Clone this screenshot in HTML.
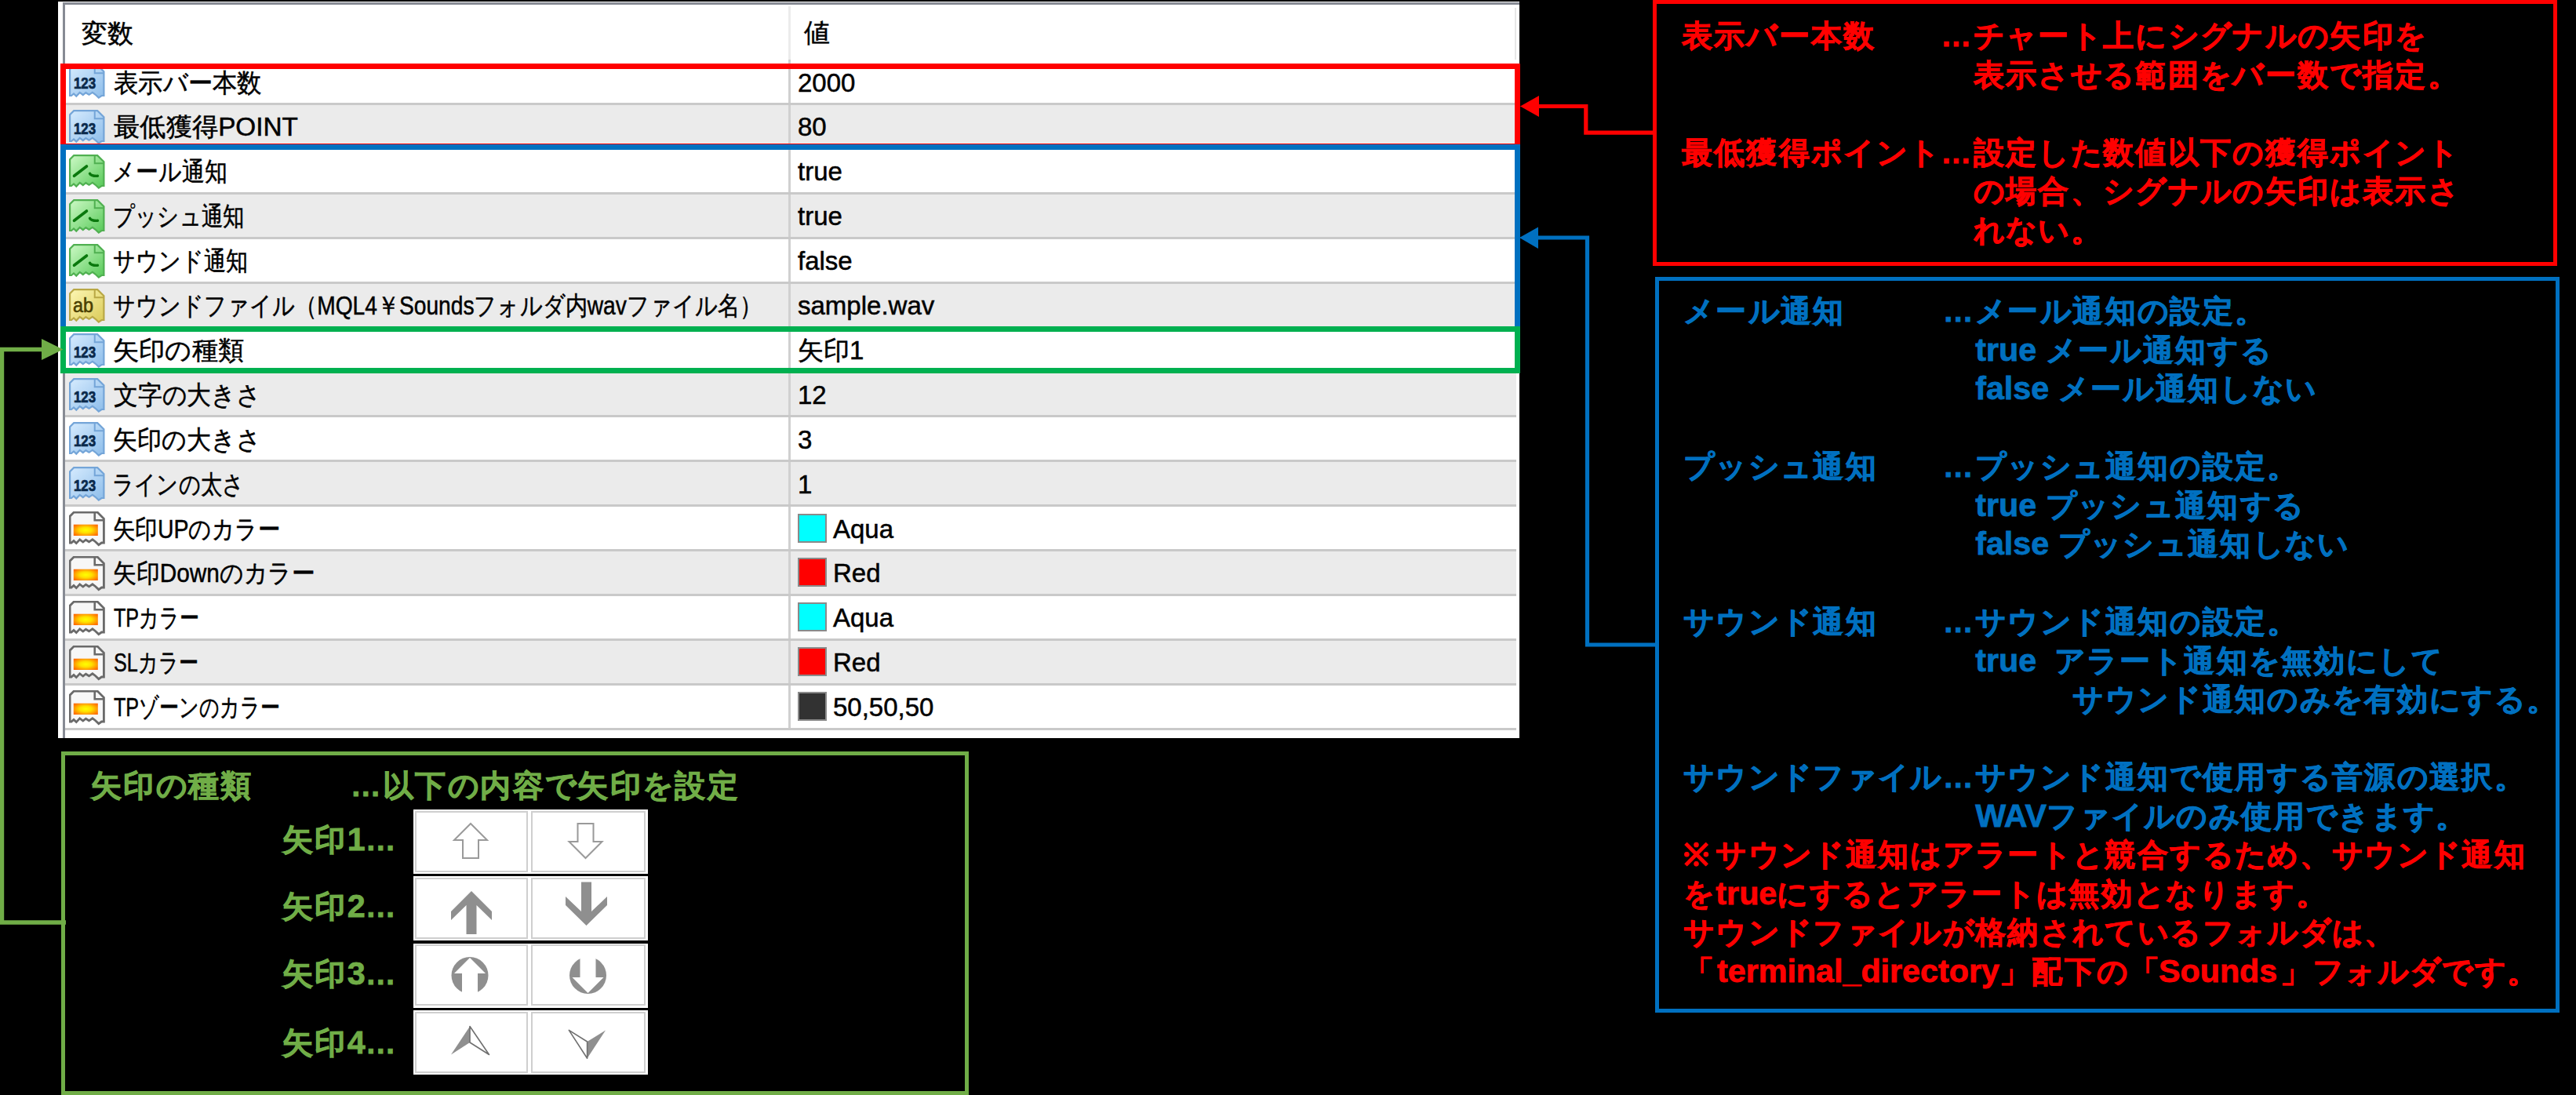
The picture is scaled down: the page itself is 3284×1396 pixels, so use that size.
<!DOCTYPE html>
<html><head><meta charset="utf-8"><style>
html,body{margin:0;padding:0}
body{width:3284px;height:1396px;background:#000;overflow:hidden;position:relative;font-family:"Liberation Sans", sans-serif}
.a{position:absolute}
.t{position:absolute;white-space:pre;color:#000;font-size:33px;line-height:33px;-webkit-text-stroke:0.5px #000}
.n{position:absolute;white-space:pre;font-weight:bold;font-size:39px;line-height:39px;-webkit-text-stroke:0.8px currentColor}
.n b{display:inline-block;width:41.35px}
.lt{font-size:41.25px;letter-spacing:0;line-height:1px}
.r{color:#ff0000} .b{color:#0070c0} .g{color:#70ad47}
.ic{position:absolute;width:46px;height:46px}
</style></head><body>

<div class="a" style="left:74px;top:2px;width:1863px;height:939px;background:#fff"></div>
<div class="a" style="left:80px;top:3px;width:1857px;height:3px;background:#878b94"></div>
<div class="a" style="left:80px;top:3px;width:3px;height:938px;background:#878b94"></div>
<div class="a" style="left:1931px;top:10px;width:2px;height:67px;background:#e6e6e6"></div>
<div class="a" style="left:1005px;top:8px;width:3px;height:68px;background:#ececec"></div>
<div class="t" style="left:104px;top:25.5px">変数</div>
<div class="t" style="left:1025px;top:25px">値</div>
<div class="a" style="left:83px;top:76.0px;width:1850px;height:55.1px;background:#ffffff"></div>
<div class="a" style="left:83px;top:131.1px;width:1850px;height:3px;background:#c9c9c9"></div>
<div class="a" style="left:1005px;top:76.0px;width:3px;height:55.1px;background:#d0d0d0"></div>
<svg class="ic" style="left:88.4px;top:82px" viewBox="0 0 46 46"><defs><linearGradient id="g123" x1="0" y1="0" x2="1" y2="1"><stop offset="0" stop-color="#d6ebfe"/><stop offset="1" stop-color="#8dbdea"/></linearGradient></defs><path d="M1.1,40 L1.1,6.2 L6.2,1.1 L36.2,1.1 L44.4,9.3 L44.4,40 L41.5,40 L37.8,42.6 L33.5,38.5 L29.9,35.8 L25.5,38.8 L21.4,36.2 L17.8,39 L13.7,35.9 L9.3,40.6 L6,37.4 L3,40 Z" fill="url(#g123)" stroke="#74a5d8" stroke-width="2.2" stroke-linejoin="miter"/><path d="M32.75,1.1 L32.75,11.2 L44.4,11.2" fill="none" stroke="#74a5d8" stroke-width="2.0"/><text x="5.9" y="31.4" font-family="Liberation Sans" font-weight="bold" font-size="20.5" fill="#0b2a4c" stroke="#0b2a4c" stroke-width="0.7" textLength="28.3" lengthAdjust="spacingAndGlyphs">123</text></svg>
<div class="t" style="left:145.1px;top:88.5px;transform:scaleX(0.9487);transform-origin:0 0">表示バー本数</div>
<div class="t" style="left:1017px;top:88.5px">2000</div>
<div class="a" style="left:83px;top:134.1px;width:1850px;height:53.9px;background:#ebebeb"></div>
<div class="a" style="left:83px;top:188.0px;width:1850px;height:3px;background:#c9c9c9"></div>
<div class="a" style="left:1005px;top:134.1px;width:3px;height:53.9px;background:#d0d0d0"></div>
<svg class="ic" style="left:88.4px;top:140.1px" viewBox="0 0 46 46"><defs><linearGradient id="g123" x1="0" y1="0" x2="1" y2="1"><stop offset="0" stop-color="#d6ebfe"/><stop offset="1" stop-color="#8dbdea"/></linearGradient></defs><path d="M1.1,40 L1.1,6.2 L6.2,1.1 L36.2,1.1 L44.4,9.3 L44.4,40 L41.5,40 L37.8,42.6 L33.5,38.5 L29.9,35.8 L25.5,38.8 L21.4,36.2 L17.8,39 L13.7,35.9 L9.3,40.6 L6,37.4 L3,40 Z" fill="url(#g123)" stroke="#74a5d8" stroke-width="2.2" stroke-linejoin="miter"/><path d="M32.75,1.1 L32.75,11.2 L44.4,11.2" fill="none" stroke="#74a5d8" stroke-width="2.0"/><text x="5.9" y="31.4" font-family="Liberation Sans" font-weight="bold" font-size="20.5" fill="#0b2a4c" stroke="#0b2a4c" stroke-width="0.7" textLength="28.3" lengthAdjust="spacingAndGlyphs">123</text></svg>
<div class="t" style="left:145.0px;top:145.4px;transform:scaleX(1.0087);transform-origin:0 0">最低獲得POINT</div>
<div class="t" style="left:1017px;top:145.4px">80</div>
<div class="a" style="left:83px;top:191.0px;width:1850px;height:53.9px;background:#ffffff"></div>
<div class="a" style="left:83px;top:244.9px;width:1850px;height:3px;background:#c9c9c9"></div>
<div class="a" style="left:1005px;top:191.0px;width:3px;height:53.9px;background:#d0d0d0"></div>
<svg class="ic" style="left:88.4px;top:197.0px" viewBox="0 0 46 46"><defs><linearGradient id="gb" x1="0" y1="0" x2="1" y2="1"><stop offset="0" stop-color="#cdf9c6"/><stop offset="1" stop-color="#56c957"/></linearGradient></defs><path d="M1.1,40 L1.1,6.2 L6.2,1.1 L36.2,1.1 L44.4,9.3 L44.4,40 L41.5,40 L37.8,42.6 L33.5,38.5 L29.9,35.8 L25.5,38.8 L21.4,36.2 L17.8,39 L13.7,35.9 L9.3,40.6 L6,37.4 L3,40 Z" fill="url(#gb)" stroke="#50b051" stroke-width="2.2" stroke-linejoin="miter"/><path d="M32.75,1.1 L32.75,11.2 L44.4,11.2" fill="none" stroke="#50b051" stroke-width="2.0"/><path d="M6.5,27.3 L22.5,15" stroke="#0a780d" stroke-width="3.6" stroke-linecap="round" fill="none"/><path d="M26.5,24.2 Q28,27.6 36.5,27.3" stroke="#0a780d" stroke-width="3.4" stroke-linecap="round" fill="none"/></svg>
<div class="t" style="left:142.5px;top:202.3px;transform:scaleX(0.8769);transform-origin:0 0">メール通知</div>
<div class="t" style="left:1017px;top:202.3px">true</div>
<div class="a" style="left:83px;top:247.9px;width:1850px;height:53.9px;background:#ebebeb"></div>
<div class="a" style="left:83px;top:301.8px;width:1850px;height:3px;background:#c9c9c9"></div>
<div class="a" style="left:1005px;top:247.9px;width:3px;height:53.9px;background:#d0d0d0"></div>
<svg class="ic" style="left:88.4px;top:253.9px" viewBox="0 0 46 46"><defs><linearGradient id="gb" x1="0" y1="0" x2="1" y2="1"><stop offset="0" stop-color="#cdf9c6"/><stop offset="1" stop-color="#56c957"/></linearGradient></defs><path d="M1.1,40 L1.1,6.2 L6.2,1.1 L36.2,1.1 L44.4,9.3 L44.4,40 L41.5,40 L37.8,42.6 L33.5,38.5 L29.9,35.8 L25.5,38.8 L21.4,36.2 L17.8,39 L13.7,35.9 L9.3,40.6 L6,37.4 L3,40 Z" fill="url(#gb)" stroke="#50b051" stroke-width="2.2" stroke-linejoin="miter"/><path d="M32.75,1.1 L32.75,11.2 L44.4,11.2" fill="none" stroke="#50b051" stroke-width="2.0"/><path d="M6.5,27.3 L22.5,15" stroke="#0a780d" stroke-width="3.6" stroke-linecap="round" fill="none"/><path d="M26.5,24.2 Q28,27.6 36.5,27.3" stroke="#0a780d" stroke-width="3.4" stroke-linecap="round" fill="none"/></svg>
<div class="t" style="left:143.5px;top:259.2px;transform:scaleX(0.8306);transform-origin:0 0">プッシュ通知</div>
<div class="t" style="left:1017px;top:259.2px">true</div>
<div class="a" style="left:83px;top:304.8px;width:1850px;height:53.9px;background:#ffffff"></div>
<div class="a" style="left:83px;top:358.7px;width:1850px;height:3px;background:#c9c9c9"></div>
<div class="a" style="left:1005px;top:304.8px;width:3px;height:53.9px;background:#d0d0d0"></div>
<svg class="ic" style="left:88.4px;top:310.8px" viewBox="0 0 46 46"><defs><linearGradient id="gb" x1="0" y1="0" x2="1" y2="1"><stop offset="0" stop-color="#cdf9c6"/><stop offset="1" stop-color="#56c957"/></linearGradient></defs><path d="M1.1,40 L1.1,6.2 L6.2,1.1 L36.2,1.1 L44.4,9.3 L44.4,40 L41.5,40 L37.8,42.6 L33.5,38.5 L29.9,35.8 L25.5,38.8 L21.4,36.2 L17.8,39 L13.7,35.9 L9.3,40.6 L6,37.4 L3,40 Z" fill="url(#gb)" stroke="#50b051" stroke-width="2.2" stroke-linejoin="miter"/><path d="M32.75,1.1 L32.75,11.2 L44.4,11.2" fill="none" stroke="#50b051" stroke-width="2.0"/><path d="M6.5,27.3 L22.5,15" stroke="#0a780d" stroke-width="3.6" stroke-linecap="round" fill="none"/><path d="M26.5,24.2 Q28,27.6 36.5,27.3" stroke="#0a780d" stroke-width="3.4" stroke-linecap="round" fill="none"/></svg>
<div class="t" style="left:144.3px;top:316.1px;transform:scaleX(0.8528);transform-origin:0 0">サウンド通知</div>
<div class="t" style="left:1017px;top:316.1px">false</div>
<div class="a" style="left:83px;top:361.7px;width:1850px;height:53.9px;background:#ebebeb"></div>
<div class="a" style="left:83px;top:415.6px;width:1850px;height:3px;background:#c9c9c9"></div>
<div class="a" style="left:1005px;top:361.7px;width:3px;height:53.9px;background:#d0d0d0"></div>
<svg class="ic" style="left:88.4px;top:367.7px" viewBox="0 0 46 46"><defs><linearGradient id="gab" x1="0" y1="0" x2="1" y2="1"><stop offset="0" stop-color="#fdf7b4"/><stop offset="1" stop-color="#dacb58"/></linearGradient></defs><path d="M1.1,40 L1.1,6.2 L6.2,1.1 L36.2,1.1 L44.4,9.3 L44.4,40 L41.5,40 L37.8,42.6 L33.5,38.5 L29.9,35.8 L25.5,38.8 L21.4,36.2 L17.8,39 L13.7,35.9 L9.3,40.6 L6,37.4 L3,40 Z" fill="url(#gab)" stroke="#b9a846" stroke-width="2.2" stroke-linejoin="miter"/><path d="M32.75,1.1 L32.75,11.2 L44.4,11.2" fill="none" stroke="#b9a846" stroke-width="2.0"/><text x="5" y="30.2" font-family="Liberation Sans" font-size="26" fill="#4a4000" stroke="#4a4000" stroke-width="0.6" textLength="26" lengthAdjust="spacingAndGlyphs">ab</text></svg>
<div class="t" style="left:144.3px;top:373.0px;transform:scaleX(0.8531);transform-origin:0 0">サウンドファイル（MQL4￥Soundsフォルダ内wavファイル名）</div>
<div class="t" style="left:1017px;top:373.0px">sample.wav</div>
<div class="a" style="left:83px;top:418.6px;width:1850px;height:53.9px;background:#ffffff"></div>
<div class="a" style="left:83px;top:472.5px;width:1850px;height:3px;background:#c9c9c9"></div>
<div class="a" style="left:1005px;top:418.6px;width:3px;height:53.9px;background:#d0d0d0"></div>
<svg class="ic" style="left:88.4px;top:424.6px" viewBox="0 0 46 46"><defs><linearGradient id="g123" x1="0" y1="0" x2="1" y2="1"><stop offset="0" stop-color="#d6ebfe"/><stop offset="1" stop-color="#8dbdea"/></linearGradient></defs><path d="M1.1,40 L1.1,6.2 L6.2,1.1 L36.2,1.1 L44.4,9.3 L44.4,40 L41.5,40 L37.8,42.6 L33.5,38.5 L29.9,35.8 L25.5,38.8 L21.4,36.2 L17.8,39 L13.7,35.9 L9.3,40.6 L6,37.4 L3,40 Z" fill="url(#g123)" stroke="#74a5d8" stroke-width="2.2" stroke-linejoin="miter"/><path d="M32.75,1.1 L32.75,11.2 L44.4,11.2" fill="none" stroke="#74a5d8" stroke-width="2.0"/><text x="5.9" y="31.4" font-family="Liberation Sans" font-weight="bold" font-size="20.5" fill="#0b2a4c" stroke="#0b2a4c" stroke-width="0.7" textLength="28.3" lengthAdjust="spacingAndGlyphs">123</text></svg>
<div class="t" style="left:144.0px;top:429.9px;transform:scaleX(1.0061);transform-origin:0 0">矢印の種類</div>
<div class="t" style="left:1017px;top:429.9px">矢印1</div>
<div class="a" style="left:83px;top:475.5px;width:1850px;height:53.9px;background:#ebebeb"></div>
<div class="a" style="left:83px;top:529.4px;width:1850px;height:3px;background:#c9c9c9"></div>
<div class="a" style="left:1005px;top:475.5px;width:3px;height:53.9px;background:#d0d0d0"></div>
<svg class="ic" style="left:88.4px;top:481.5px" viewBox="0 0 46 46"><defs><linearGradient id="g123" x1="0" y1="0" x2="1" y2="1"><stop offset="0" stop-color="#d6ebfe"/><stop offset="1" stop-color="#8dbdea"/></linearGradient></defs><path d="M1.1,40 L1.1,6.2 L6.2,1.1 L36.2,1.1 L44.4,9.3 L44.4,40 L41.5,40 L37.8,42.6 L33.5,38.5 L29.9,35.8 L25.5,38.8 L21.4,36.2 L17.8,39 L13.7,35.9 L9.3,40.6 L6,37.4 L3,40 Z" fill="url(#g123)" stroke="#74a5d8" stroke-width="2.2" stroke-linejoin="miter"/><path d="M32.75,1.1 L32.75,11.2 L44.4,11.2" fill="none" stroke="#74a5d8" stroke-width="2.0"/><text x="5.9" y="31.4" font-family="Liberation Sans" font-weight="bold" font-size="20.5" fill="#0b2a4c" stroke="#0b2a4c" stroke-width="0.7" textLength="28.3" lengthAdjust="spacingAndGlyphs">123</text></svg>
<div class="t" style="left:145.1px;top:486.8px;transform:scaleX(0.9344);transform-origin:0 0">文字の大きさ</div>
<div class="t" style="left:1017px;top:486.8px">12</div>
<div class="a" style="left:83px;top:532.4px;width:1850px;height:53.9px;background:#ffffff"></div>
<div class="a" style="left:83px;top:586.3px;width:1850px;height:3px;background:#c9c9c9"></div>
<div class="a" style="left:1005px;top:532.4px;width:3px;height:53.9px;background:#d0d0d0"></div>
<svg class="ic" style="left:88.4px;top:538.4px" viewBox="0 0 46 46"><defs><linearGradient id="g123" x1="0" y1="0" x2="1" y2="1"><stop offset="0" stop-color="#d6ebfe"/><stop offset="1" stop-color="#8dbdea"/></linearGradient></defs><path d="M1.1,40 L1.1,6.2 L6.2,1.1 L36.2,1.1 L44.4,9.3 L44.4,40 L41.5,40 L37.8,42.6 L33.5,38.5 L29.9,35.8 L25.5,38.8 L21.4,36.2 L17.8,39 L13.7,35.9 L9.3,40.6 L6,37.4 L3,40 Z" fill="url(#g123)" stroke="#74a5d8" stroke-width="2.2" stroke-linejoin="miter"/><path d="M32.75,1.1 L32.75,11.2 L44.4,11.2" fill="none" stroke="#74a5d8" stroke-width="2.0"/><text x="5.9" y="31.4" font-family="Liberation Sans" font-weight="bold" font-size="20.5" fill="#0b2a4c" stroke="#0b2a4c" stroke-width="0.7" textLength="28.3" lengthAdjust="spacingAndGlyphs">123</text></svg>
<div class="t" style="left:144.1px;top:543.7px;transform:scaleX(0.9393);transform-origin:0 0">矢印の大きさ</div>
<div class="t" style="left:1017px;top:543.7px">3</div>
<div class="a" style="left:83px;top:589.3px;width:1850px;height:53.9px;background:#ebebeb"></div>
<div class="a" style="left:83px;top:643.2px;width:1850px;height:3px;background:#c9c9c9"></div>
<div class="a" style="left:1005px;top:589.3px;width:3px;height:53.9px;background:#d0d0d0"></div>
<svg class="ic" style="left:88.4px;top:595.3px" viewBox="0 0 46 46"><defs><linearGradient id="g123" x1="0" y1="0" x2="1" y2="1"><stop offset="0" stop-color="#d6ebfe"/><stop offset="1" stop-color="#8dbdea"/></linearGradient></defs><path d="M1.1,40 L1.1,6.2 L6.2,1.1 L36.2,1.1 L44.4,9.3 L44.4,40 L41.5,40 L37.8,42.6 L33.5,38.5 L29.9,35.8 L25.5,38.8 L21.4,36.2 L17.8,39 L13.7,35.9 L9.3,40.6 L6,37.4 L3,40 Z" fill="url(#g123)" stroke="#74a5d8" stroke-width="2.2" stroke-linejoin="miter"/><path d="M32.75,1.1 L32.75,11.2 L44.4,11.2" fill="none" stroke="#74a5d8" stroke-width="2.0"/><text x="5.9" y="31.4" font-family="Liberation Sans" font-weight="bold" font-size="20.5" fill="#0b2a4c" stroke="#0b2a4c" stroke-width="0.7" textLength="28.3" lengthAdjust="spacingAndGlyphs">123</text></svg>
<div class="t" style="left:142.7px;top:600.6px;transform:scaleX(0.8293);transform-origin:0 0">ラインの太さ</div>
<div class="t" style="left:1017px;top:600.6px">1</div>
<div class="a" style="left:83px;top:646.2px;width:1850px;height:53.9px;background:#ffffff"></div>
<div class="a" style="left:83px;top:700.1px;width:1850px;height:3px;background:#c9c9c9"></div>
<div class="a" style="left:1005px;top:646.2px;width:3px;height:53.9px;background:#d0d0d0"></div>
<svg class="ic" style="left:88.4px;top:652.2px" viewBox="0 0 46 46"><defs><radialGradient id="gc" cx="0.5" cy="0.5" r="0.62"><stop offset="0" stop-color="#ffff00"/><stop offset="0.4" stop-color="#ffe000"/><stop offset="1" stop-color="#ff6c00"/></radialGradient></defs><path d="M1.1,40 L1.1,6.2 L6.2,1.1 L36.2,1.1 L44.4,9.3 L44.4,40 L41.5,40 L37.8,42.6 L33.5,38.5 L29.9,35.8 L25.5,38.8 L21.4,36.2 L17.8,39 L13.7,35.9 L9.3,40.6 L6,37.4 L3,40 Z" fill="#f7f7f7" stroke="#6a6a6a" stroke-width="2.8" stroke-linejoin="miter"/><path d="M32.75,1.1 L32.75,11.2 L44.4,11.2" fill="none" stroke="#6a6a6a" stroke-width="2.5999999999999996"/><rect x="5.8" y="16.7" width="31" height="14.3" fill="url(#gc)"/></svg>
<div class="t" style="left:144.3px;top:657.5px;transform:scaleX(0.8628);transform-origin:0 0">矢印UPのカラー</div>
<div class="a" style="left:1017px;top:654.5px;width:32.5px;height:33px;background:#00ffff;border:2px solid #8a8a8a"></div>
<div class="t" style="left:1062px;top:657.5px">Aqua</div>
<div class="a" style="left:83px;top:703.1px;width:1850px;height:53.9px;background:#ebebeb"></div>
<div class="a" style="left:83px;top:757.0px;width:1850px;height:3px;background:#c9c9c9"></div>
<div class="a" style="left:1005px;top:703.1px;width:3px;height:53.9px;background:#d0d0d0"></div>
<svg class="ic" style="left:88.4px;top:709.1px" viewBox="0 0 46 46"><defs><radialGradient id="gc" cx="0.5" cy="0.5" r="0.62"><stop offset="0" stop-color="#ffff00"/><stop offset="0.4" stop-color="#ffe000"/><stop offset="1" stop-color="#ff6c00"/></radialGradient></defs><path d="M1.1,40 L1.1,6.2 L6.2,1.1 L36.2,1.1 L44.4,9.3 L44.4,40 L41.5,40 L37.8,42.6 L33.5,38.5 L29.9,35.8 L25.5,38.8 L21.4,36.2 L17.8,39 L13.7,35.9 L9.3,40.6 L6,37.4 L3,40 Z" fill="#f7f7f7" stroke="#6a6a6a" stroke-width="2.8" stroke-linejoin="miter"/><path d="M32.75,1.1 L32.75,11.2 L44.4,11.2" fill="none" stroke="#6a6a6a" stroke-width="2.5999999999999996"/><rect x="5.8" y="16.7" width="31" height="14.3" fill="url(#gc)"/></svg>
<div class="t" style="left:144.2px;top:714.4px;transform:scaleX(0.9036);transform-origin:0 0">矢印Downのカラー</div>
<div class="a" style="left:1017px;top:711.4px;width:32.5px;height:33px;background:#ff0000;border:2px solid #8a8a8a"></div>
<div class="t" style="left:1062px;top:714.4px">Red</div>
<div class="a" style="left:83px;top:760.0px;width:1850px;height:53.9px;background:#ffffff"></div>
<div class="a" style="left:83px;top:813.9px;width:1850px;height:3px;background:#c9c9c9"></div>
<div class="a" style="left:1005px;top:760.0px;width:3px;height:53.9px;background:#d0d0d0"></div>
<svg class="ic" style="left:88.4px;top:766.0px" viewBox="0 0 46 46"><defs><radialGradient id="gc" cx="0.5" cy="0.5" r="0.62"><stop offset="0" stop-color="#ffff00"/><stop offset="0.4" stop-color="#ffe000"/><stop offset="1" stop-color="#ff6c00"/></radialGradient></defs><path d="M1.1,40 L1.1,6.2 L6.2,1.1 L36.2,1.1 L44.4,9.3 L44.4,40 L41.5,40 L37.8,42.6 L33.5,38.5 L29.9,35.8 L25.5,38.8 L21.4,36.2 L17.8,39 L13.7,35.9 L9.3,40.6 L6,37.4 L3,40 Z" fill="#f7f7f7" stroke="#6a6a6a" stroke-width="2.8" stroke-linejoin="miter"/><path d="M32.75,1.1 L32.75,11.2 L44.4,11.2" fill="none" stroke="#6a6a6a" stroke-width="2.5999999999999996"/><rect x="5.8" y="16.7" width="31" height="14.3" fill="url(#gc)"/></svg>
<div class="t" style="left:145.2px;top:771.3px;transform:scaleX(0.7612);transform-origin:0 0">TPカラー</div>
<div class="a" style="left:1017px;top:768.3px;width:32.5px;height:33px;background:#00ffff;border:2px solid #8a8a8a"></div>
<div class="t" style="left:1062px;top:771.3px">Aqua</div>
<div class="a" style="left:83px;top:816.9px;width:1850px;height:53.9px;background:#ebebeb"></div>
<div class="a" style="left:83px;top:870.8px;width:1850px;height:3px;background:#c9c9c9"></div>
<div class="a" style="left:1005px;top:816.9px;width:3px;height:53.9px;background:#d0d0d0"></div>
<svg class="ic" style="left:88.4px;top:822.9px" viewBox="0 0 46 46"><defs><radialGradient id="gc" cx="0.5" cy="0.5" r="0.62"><stop offset="0" stop-color="#ffff00"/><stop offset="0.4" stop-color="#ffe000"/><stop offset="1" stop-color="#ff6c00"/></radialGradient></defs><path d="M1.1,40 L1.1,6.2 L6.2,1.1 L36.2,1.1 L44.4,9.3 L44.4,40 L41.5,40 L37.8,42.6 L33.5,38.5 L29.9,35.8 L25.5,38.8 L21.4,36.2 L17.8,39 L13.7,35.9 L9.3,40.6 L6,37.4 L3,40 Z" fill="#f7f7f7" stroke="#6a6a6a" stroke-width="2.8" stroke-linejoin="miter"/><path d="M32.75,1.1 L32.75,11.2 L44.4,11.2" fill="none" stroke="#6a6a6a" stroke-width="2.5999999999999996"/><rect x="5.8" y="16.7" width="31" height="14.3" fill="url(#gc)"/></svg>
<div class="t" style="left:144.5px;top:828.2px;transform:scaleX(0.7625);transform-origin:0 0">SLカラー</div>
<div class="a" style="left:1017px;top:825.2px;width:32.5px;height:33px;background:#ff0000;border:2px solid #8a8a8a"></div>
<div class="t" style="left:1062px;top:828.2px">Red</div>
<div class="a" style="left:83px;top:873.8px;width:1850px;height:53.9px;background:#ffffff"></div>
<div class="a" style="left:83px;top:927.7px;width:1850px;height:3px;background:#c9c9c9"></div>
<div class="a" style="left:1005px;top:873.8px;width:3px;height:53.9px;background:#d0d0d0"></div>
<svg class="ic" style="left:88.4px;top:879.8px" viewBox="0 0 46 46"><defs><radialGradient id="gc" cx="0.5" cy="0.5" r="0.62"><stop offset="0" stop-color="#ffff00"/><stop offset="0.4" stop-color="#ffe000"/><stop offset="1" stop-color="#ff6c00"/></radialGradient></defs><path d="M1.1,40 L1.1,6.2 L6.2,1.1 L36.2,1.1 L44.4,9.3 L44.4,40 L41.5,40 L37.8,42.6 L33.5,38.5 L29.9,35.8 L25.5,38.8 L21.4,36.2 L17.8,39 L13.7,35.9 L9.3,40.6 L6,37.4 L3,40 Z" fill="#f7f7f7" stroke="#6a6a6a" stroke-width="2.8" stroke-linejoin="miter"/><path d="M32.75,1.1 L32.75,11.2 L44.4,11.2" fill="none" stroke="#6a6a6a" stroke-width="2.5999999999999996"/><rect x="5.8" y="16.7" width="31" height="14.3" fill="url(#gc)"/></svg>
<div class="t" style="left:145.2px;top:885.1px;transform:scaleX(0.762);transform-origin:0 0">TPゾーンのカラー</div>
<div class="a" style="left:1017px;top:882.1px;width:32.5px;height:33px;background:#323232;border:2px solid #8a8a8a"></div>
<div class="t" style="left:1062px;top:885.1px">50,50,50</div>
<div class="a" style="left:77px;top:81px;width:1847px;height:95px;border:7px solid #ff0000"></div>
<div class="a" style="left:77px;top:184px;width:1847px;height:225px;border:7px solid #0070c0"></div>
<div class="a" style="left:77px;top:416px;width:1847px;height:46px;border:7px solid #00b050"></div>
<div class="a" style="left:2107px;top:0px;width:1143px;height:329px;border:5px solid #ff0000"></div>
<div class="a" style="left:2110px;top:353px;width:1143px;height:928px;border:5px solid #0070c0"></div>
<div class="a" style="left:78px;top:958px;width:1147px;height:428px;border:5px solid #70ad47"></div>
<svg class="a" style="left:0;top:0" width="3284" height="1396" viewBox="0 0 3284 1396">
<polyline points="2107,169.2 2021.8,169.2 2021.8,135.5 1960,135.5" fill="none" stroke="#ff0000" stroke-width="5.2"/>
<polygon points="1938,135.5 1962,122 1962,149" fill="#ff0000"/>
<polyline points="2110,822 2023.5,822 2023.5,303 1959,303" fill="none" stroke="#0070c0" stroke-width="5.2"/>
<polygon points="1937,303 1961,289.6 1961,317" fill="#0070c0"/>
<polyline points="84,1176 2.5,1176 2.5,445.5 55,445.5" fill="none" stroke="#70ad47" stroke-width="5.4"/>
<polygon points="80.5,445.5 53,432 53,459" fill="#70ad47"/>
</svg>
<div class="n r" style="left:2143.5px;top:26.0px"><b>表</b><b>示</b><b>バ</b><b>ー</b><b>本</b><b>数</b></div>
<div class="n r" style="left:2474.3px;top:26.0px"><b>…</b><b>チ</b><b>ャ</b><b>ー</b><b>ト</b><b>上</b><b>に</b><b>シ</b><b>グ</b><b>ナ</b><b>ル</b><b>の</b><b>矢</b><b>印</b><b>を</b></div>
<div class="n r" style="left:2515.7px;top:75.5px"><b>表</b><b>示</b><b>さ</b><b>せ</b><b>る</b><b>範</b><b>囲</b><b>を</b><b>バ</b><b>ー</b><b>数</b><b>で</b><b>指</b><b>定</b><b>。</b></div>
<div class="n r" style="left:2143.5px;top:174.5px"><b>最</b><b>低</b><b>獲</b><b>得</b><b>ポ</b><b>イ</b><b>ン</b><b>ト</b></div>
<div class="n r" style="left:2474.3px;top:174.5px"><b>…</b><b>設</b><b>定</b><b>し</b><b>た</b><b>数</b><b>値</b><b>以</b><b>下</b><b>の</b><b>獲</b><b>得</b><b>ポ</b><b>イ</b><b>ン</b><b>ト</b></div>
<div class="n r" style="left:2515.7px;top:224.0px"><b>の</b><b>場</b><b>合</b><b>、</b><b>シ</b><b>グ</b><b>ナ</b><b>ル</b><b>の</b><b>矢</b><b>印</b><b>は</b><b>表</b><b>示</b><b>さ</b></div>
<div class="n r" style="left:2515.7px;top:273.5px"><b>れ</b><b>な</b><b>い</b><b>。</b></div>
<div class="n b" style="left:2146.0px;top:377.0px"><b>メ</b><b>ー</b><b>ル</b><b>通</b><b>知</b></div>
<div class="n b" style="left:2476.8px;top:377.0px"><b>…</b><b>メ</b><b>ー</b><b>ル</b><b>通</b><b>知</b><b>の</b><b>設</b><b>定</b><b>。</b></div>
<div class="n b" style="left:2518.2px;top:426.5px"><span class="lt">true </span><b>メ</b><b>ー</b><b>ル</b><b>通</b><b>知</b><b>す</b><b>る</b></div>
<div class="n b" style="left:2518.2px;top:476.0px"><span class="lt">false </span><b>メ</b><b>ー</b><b>ル</b><b>通</b><b>知</b><b>し</b><b>な</b><b>い</b></div>
<div class="n b" style="left:2146.0px;top:575.0px"><b>プ</b><b>ッ</b><b>シ</b><b>ュ</b><b>通</b><b>知</b></div>
<div class="n b" style="left:2476.8px;top:575.0px"><b>…</b><b>プ</b><b>ッ</b><b>シ</b><b>ュ</b><b>通</b><b>知</b><b>の</b><b>設</b><b>定</b><b>。</b></div>
<div class="n b" style="left:2518.2px;top:624.5px"><span class="lt">true </span><b>プ</b><b>ッ</b><b>シ</b><b>ュ</b><b>通</b><b>知</b><b>す</b><b>る</b></div>
<div class="n b" style="left:2518.2px;top:674.0px"><span class="lt">false </span><b>プ</b><b>ッ</b><b>シ</b><b>ュ</b><b>通</b><b>知</b><b>し</b><b>な</b><b>い</b></div>
<div class="n b" style="left:2146.0px;top:773.0px"><b>サ</b><b>ウ</b><b>ン</b><b>ド</b><b>通</b><b>知</b></div>
<div class="n b" style="left:2476.8px;top:773.0px"><b>…</b><b>サ</b><b>ウ</b><b>ン</b><b>ド</b><b>通</b><b>知</b><b>の</b><b>設</b><b>定</b><b>。</b></div>
<div class="n b" style="left:2518.2px;top:822.5px"><span class="lt">true  </span><b>ア</b><b>ラ</b><b>ー</b><b>ト</b><b>通</b><b>知</b><b>を</b><b>無</b><b>効</b><b>に</b><b>し</b><b>て</b></div>
<div class="n b" style="left:2642.2px;top:872.0px"><b>サ</b><b>ウ</b><b>ン</b><b>ド</b><b>通</b><b>知</b><b>の</b><b>み</b><b>を</b><b>有</b><b>効</b><b>に</b><b>す</b><b>る</b><b>。</b></div>
<div class="n b" style="left:2146.0px;top:971.0px"><b>サ</b><b>ウ</b><b>ン</b><b>ド</b><b>フ</b><b>ァ</b><b>イ</b><b>ル</b></div>
<div class="n b" style="left:2476.8px;top:971.0px"><b>…</b><b>サ</b><b>ウ</b><b>ン</b><b>ド</b><b>通</b><b>知</b><b>で</b><b>使</b><b>用</b><b>す</b><b>る</b><b>音</b><b>源</b><b>の</b><b>選</b><b>択</b><b>。</b></div>
<div class="n b" style="left:2518.2px;top:1020.5px"><span class="lt">WAV</span><b>フ</b><b>ァ</b><b>イ</b><b>ル</b><b>の</b><b>み</b><b>使</b><b>用</b><b>で</b><b>き</b><b>ま</b><b>す</b><b>。</b></div>
<div class="n r" style="left:2146.0px;top:1070.0px"><b>※</b><b>サ</b><b>ウ</b><b>ン</b><b>ド</b><b>通</b><b>知</b><b>は</b><b>ア</b><b>ラ</b><b>ー</b><b>ト</b><b>と</b><b>競</b><b>合</b><b>す</b><b>る</b><b>た</b><b>め</b><b>、</b><b>サ</b><b>ウ</b><b>ン</b><b>ド</b><b>通</b><b>知</b></div>
<div class="n r" style="left:2146.0px;top:1119.5px"><b>を</b><span class="lt">true</span><b>に</b><b>す</b><b>る</b><b>と</b><b>ア</b><b>ラ</b><b>ー</b><b>ト</b><b>は</b><b>無</b><b>効</b><b>と</b><b>な</b><b>り</b><b>ま</b><b>す</b><b>。</b></div>
<div class="n r" style="left:2146.0px;top:1169.0px"><b>サ</b><b>ウ</b><b>ン</b><b>ド</b><b>フ</b><b>ァ</b><b>イ</b><b>ル</b><b>が</b><b>格</b><b>納</b><b>さ</b><b>れ</b><b>て</b><b>い</b><b>る</b><b>フ</b><b>ォ</b><b>ル</b><b>ダ</b><b>は</b><b>、</b></div>
<div class="n r" style="left:2146.0px;top:1218.5px"><b>「</b></div>
<div class="n r" style="left:2189.0px;top:1218.5px"><span class="lt">terminal_directory</span></div>
<div class="n r" style="left:2549.0px;top:1218.5px"><b>」</b><b>配</b><b>下</b><b>の</b><b>「</b></div>
<div class="n r" style="left:2752.0px;top:1218.5px"><span class="lt">Sounds</span></div>
<div class="n r" style="left:2906.6px;top:1218.5px"><b>」</b><b>フ</b><b>ォ</b><b>ル</b><b>ダ</b><b>で</b><b>す</b><b>。</b></div>
<div class="n g" style="left:116.0px;top:981.5px"><b>矢</b><b>印</b><b>の</b><b>種</b><b>類</b></div>
<div class="n g" style="left:446.8px;top:981.5px"><b>…</b><b>以</b><b>下</b><b>の</b><b>内</b><b>容</b><b>で</b><b>矢</b><b>印</b><b>を</b><b>設</b><b>定</b></div>
<div class="n g" style="left:360.0px;top:1051.0px"><b>矢</b><b>印</b><span class="lt">1</span><b>…</b></div>
<div class="n g" style="left:360.0px;top:1136.4px"><b>矢</b><b>印</b><span class="lt">2</span><b>…</b></div>
<div class="n g" style="left:360.0px;top:1222.1px"><b>矢</b><b>印</b><span class="lt">3</span><b>…</b></div>
<div class="n g" style="left:360.0px;top:1309.5px"><b>矢</b><b>印</b><span class="lt">4</span><b>…</b></div>
<div class="a" style="left:527px;top:1032px;width:299px;height:82px;background:#fff"></div>
<div class="a" style="left:529px;top:1033.5px;width:144px;height:78px;border:2px solid #cfcfcf;box-sizing:border-box"></div>
<div class="a" style="left:677px;top:1033.5px;width:146px;height:78px;border:2px solid #cfcfcf;box-sizing:border-box"></div>
<div class="a" style="left:527px;top:1117px;width:299px;height:82px;background:#fff"></div>
<div class="a" style="left:529px;top:1118.5px;width:144px;height:78px;border:2px solid #cfcfcf;box-sizing:border-box"></div>
<div class="a" style="left:677px;top:1118.5px;width:146px;height:78px;border:2px solid #cfcfcf;box-sizing:border-box"></div>
<div class="a" style="left:527px;top:1202.5px;width:299px;height:82px;background:#fff"></div>
<div class="a" style="left:529px;top:1204.0px;width:144px;height:78px;border:2px solid #cfcfcf;box-sizing:border-box"></div>
<div class="a" style="left:677px;top:1204.0px;width:146px;height:78px;border:2px solid #cfcfcf;box-sizing:border-box"></div>
<div class="a" style="left:527px;top:1288px;width:299px;height:82px;background:#fff"></div>
<div class="a" style="left:529px;top:1289.5px;width:144px;height:78px;border:2px solid #cfcfcf;box-sizing:border-box"></div>
<div class="a" style="left:677px;top:1289.5px;width:146px;height:78px;border:2px solid #cfcfcf;box-sizing:border-box"></div>
<svg class="a" style="left:0;top:0" width="3284" height="1396" viewBox="0 0 3284 1396">
<path d="M600,1050 L621,1071 L610,1071 L610,1094 L590,1094 L590,1071 L579,1071 Z" fill="#fff" stroke="#9a9a9a" stroke-width="2"/>
<path d="M746.5,1094 L767.5,1073 L756.5,1073 L756.5,1050 L736.5,1050 L736.5,1073 L725.5,1073 Z" fill="#fff" stroke="#9a9a9a" stroke-width="2"/>
<path d="M601,1136 L627,1162 L627,1173 L607.5,1154 L607.5,1191 L594.5,1191 L594.5,1154 L575,1173 L575,1162 Z" fill="#8f8f8f"/>
<path d="M747.5,1180 L774,1154 L774,1143 L754,1162 L754,1124.5 L741,1124.5 L741,1162 L721,1143 L721,1154 Z" fill="#8f8f8f"/>
<circle cx="599" cy="1243.5" r="23.5" fill="#8f8f8f"/>
<path d="M599,1221 L619,1241 L609,1241 L609,1268 L589,1268 L589,1241 L579,1241 Z" fill="#fff"/>
<circle cx="749.5" cy="1243.5" r="23.5" fill="#8f8f8f"/>
<path d="M749.5,1266 L769.5,1246 L759.5,1246 L759.5,1219 L739.5,1219 L739.5,1246 L729.5,1246 Z" fill="#fff"/>
<path d="M599,1308.5 L575,1344.5 L599,1329 Z" fill="#8f8f8f"/>
<path d="M599,1308.5 L623.5,1344.5 L599,1329 Z" fill="#fff" stroke="#6f6f6f" stroke-width="1.6" stroke-linejoin="round"/>
<path d="M748.6,1349.3 L772,1313.4 L748.6,1328 Z" fill="#8f8f8f"/>
<path d="M748.6,1349.3 L725.3,1313.4 L748.6,1328 Z" fill="#fff" stroke="#6f6f6f" stroke-width="1.6" stroke-linejoin="round"/>
</svg>
</body></html>
